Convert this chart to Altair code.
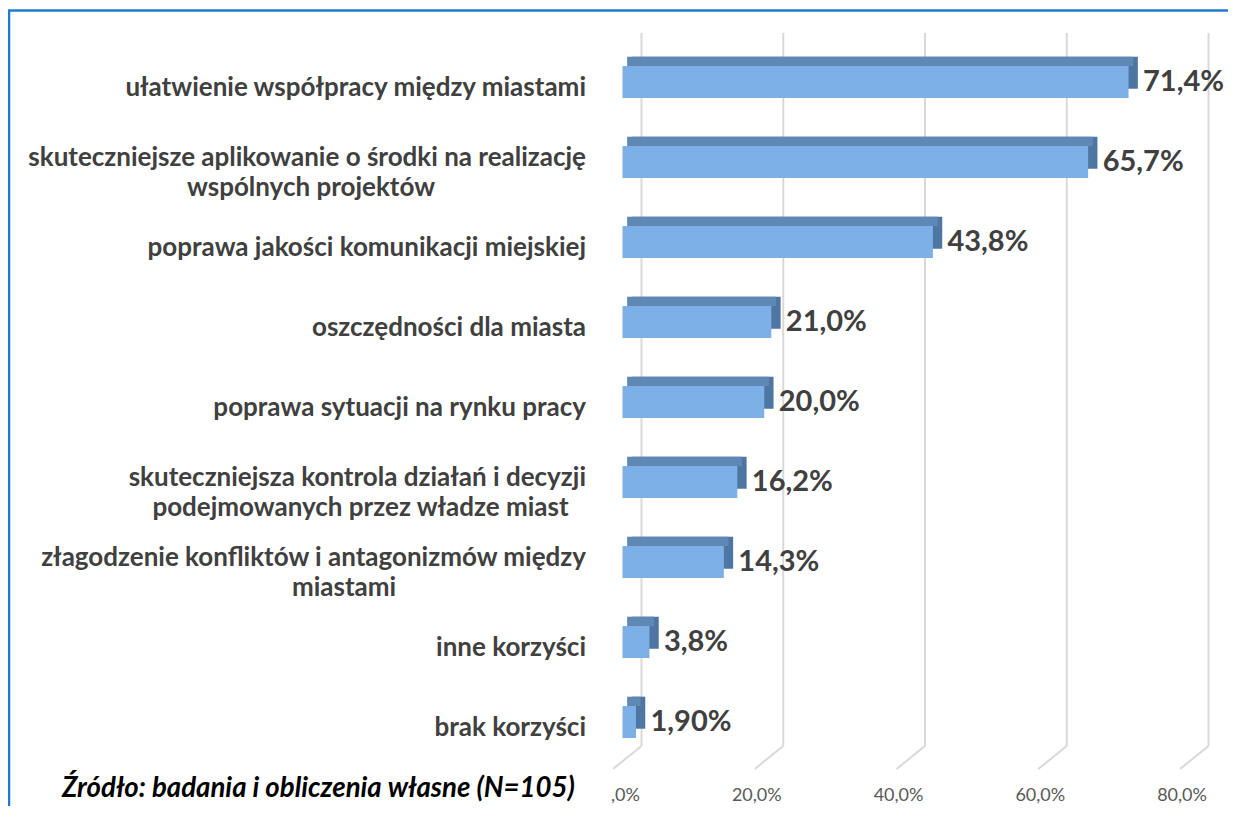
import altair as alt
import pandas as pd

categories = [
    "ułatwienie współpracy między miastami",
    "skuteczniejsze aplikowanie o środki  na realizację\nwspólnych projektów",
    "poprawa jakości komunikacji miejskiej",
    "oszczędności dla miasta",
    "poprawa sytuacji na rynku pracy",
    "skuteczniejsza kontrola działań i decyzji\npodejmowanych przez władze miast",
    "złagodzenie konfliktów i antagonizmów między\nmiastami",
    "inne korzyści",
    "brak korzyści",
]
values = [71.4, 65.7, 43.8, 21.0, 20.0, 16.2, 14.3, 3.8, 1.9]
value_labels = ["71,4%", "65,7%", "43,8%", "21,0%", "20,0%", "16,2%", "14,3%", "3,8%", "1,90%"]
ticks = [0, 20, 40, 60, 80]
tick_labels = [",0%", "20,0%", "40,0%", "60,0%", "80,0%"]
source_text = ["Źródło: badania i obliczenia własne (N=105)"]

df = pd.DataFrame({"cat": categories, "value": values, "label": value_labels})
tdf = pd.DataFrame({"tick": ticks, "tlabel": tick_labels})
sdf = pd.DataFrame({"t": source_text})

FONT = "Lato"
FRONT = "#7DB0E6"
TOP = "#5F88B7"
SIDE = "#4E76A2"
GRID = "#D9D9D9"
LABEL = "#404040"
DEPTH = 9.3
SHIFT = 9.5
CAT_SIZE = 26
CHAR_W = 11.0

xs = alt.Scale(domain=[0, 80], nice=False, zero=True)
ys = alt.Scale(paddingInner=0.6, paddingOuter=0.3)
X = alt.X("value:Q", scale=xs, axis=None)
Y = alt.Y("cat:N", sort=categories, scale=ys, axis=None)

grid_v = alt.Chart(tdf).mark_rule(color=GRID, strokeWidth=2, xOffset=28.5).encode(
    x=alt.X("tick:Q", scale=xs, axis=None), y=alt.value(-9), y2=alt.value(704)
)
grid_s = alt.Chart(tdf).mark_rule(color=GRID, strokeWidth=2, x2Offset=28.5).encode(
    x=alt.X("tick:Q", scale=xs, axis=None), x2=alt.X2("tick"), y=alt.value(727), y2=alt.value(704)
)
tick_text = alt.Chart(tdf).mark_text(
    align="right", baseline="middle", dx=27, fontSize=18, font=FONT, color="#595959"
).encode(x=alt.X("tick:Q", scale=xs, axis=None), y=alt.value(754), text="tlabel:N")

back = alt.Chart(df).mark_bar(color=SIDE, xOffset=SHIFT + DEPTH, yOffset=-DEPTH).encode(x=X, y=Y)
top = alt.Chart(df).mark_bar(color=TOP, height=DEPTH, xOffset=SHIFT + DEPTH / 2, yOffset=-(16 + DEPTH / 2)).encode(x=X, y=Y)
front = alt.Chart(df).mark_bar(color=FRONT, xOffset=SHIFT).encode(x=X, y=Y)

vlabels = alt.Chart(df).mark_text(
    align="left", baseline="middle", dx=24, fontSize=29, fontWeight="bold", font=FONT, color=LABEL
).encode(x=X, y=Y, text="label:N")

base_lab = alt.Chart(df).transform_calculate(
    line1="split(datum.cat, '\\n')[0]",
    line2="length(split(datum.cat, '\\n')) > 1 ? split(datum.cat, '\\n')[1] : ''",
    multi="indexof(datum.cat, '\\n') >= 0",
)
single_lab = base_lab.transform_filter("!datum.multi").mark_text(
    align="right", baseline="middle", dy=6, fontSize=CAT_SIZE, fontWeight="bold", font=FONT, color=LABEL
).encode(x=alt.value(-27), y=Y, text="line1:N")
multi1_lab = base_lab.transform_filter("datum.multi").mark_text(
    align="right", baseline="middle", dy=-4, fontSize=CAT_SIZE, fontWeight="bold", font=FONT, color=LABEL
).encode(x=alt.value(-27), y=Y, text="line1:N")
multi2_lab = base_lab.transform_filter("datum.multi").transform_calculate(
    cx=f"-27 - length(datum.line1) * {CHAR_W} / 2"
).mark_text(
    align="center", baseline="middle", dy=26, fontSize=CAT_SIZE, fontWeight="bold", font=FONT, color=LABEL
).encode(x=alt.X("cx:Q", scale=None), y=Y, text="line2:N")

source = alt.Chart(sdf).mark_text(
    align="left", baseline="middle", fontSize=27.6, fontWeight="bold", fontStyle="italic",
    font=FONT, color="#000000"
).encode(x=alt.value(-551), y=alt.value(747), text="t:N")

frame_top = alt.Chart(sdf).mark_rule(color="#1C7CD5", strokeWidth=2.5).encode(
    x=alt.value(-605), x2=alt.value(615), y=alt.value(-31.5)
)
frame_left = alt.Chart(sdf).mark_rule(color="#1C7CD5", strokeWidth=2.5).encode(
    x=alt.value(-604), y=alt.value(-31.5), y2=alt.value(770)
)

chart = alt.layer(
    grid_v, grid_s, tick_text, back, top, front, vlabels,
    single_lab, multi1_lab, multi2_lab, source, frame_top, frame_left
).properties(
    width=567,
    height=720,
    autosize=alt.AutoSizeParams(type="none"),
    padding={"left": 605, "top": 34, "right": 48, "bottom": 44},
).configure_view(stroke=None)

chart.save("out.html", embed_options={"renderer": "svg", "actions": False})
